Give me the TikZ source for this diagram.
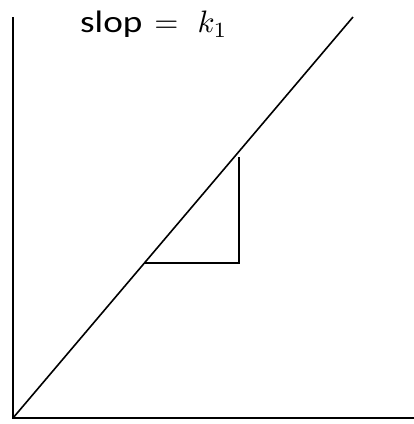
\documentclass[tikz,border=0pt]{standalone}
\usepackage{fontspec}
\usepackage{graphicx}
\newfontfamily\carlito{Carlito}
\newcommand\bigmath[1]{\scalebox{3.1}{\fontsize{10}{12}\selectfont$#1$}}
\begin{document}
\begin{tikzpicture}[x=1pt,y=-1pt,
  ln/.style={line width=1.6pt,black},
  lab/.style={inner sep=0pt,font=\fontsize{31}{36}\selectfont}]
\useasboundingbox (0,0) rectangle (414,424);
\coordinate (O) at (13,418);
\coordinate (Ytop) at (13,17);
\coordinate (Xend) at (414,418);
\coordinate (Dend) at (353,17);
\coordinate (A) at (145,263);
\coordinate (B) at (239,263);
\coordinate (C) at (239,157);
\draw[ln] (Ytop) -- (O) -- (Xend);
\draw[ln] (O) -- (Dend);
\draw[ln] (A) -- (B) -- (C);
\node[lab,anchor=base west] (t) at (80,32.7) {\scalebox{1.2}[1]{\carlito slop}\hspace{12pt}\bigmath{=}\hspace{19pt}\bigmath{k_1}};
\end{tikzpicture}
\end{document}
